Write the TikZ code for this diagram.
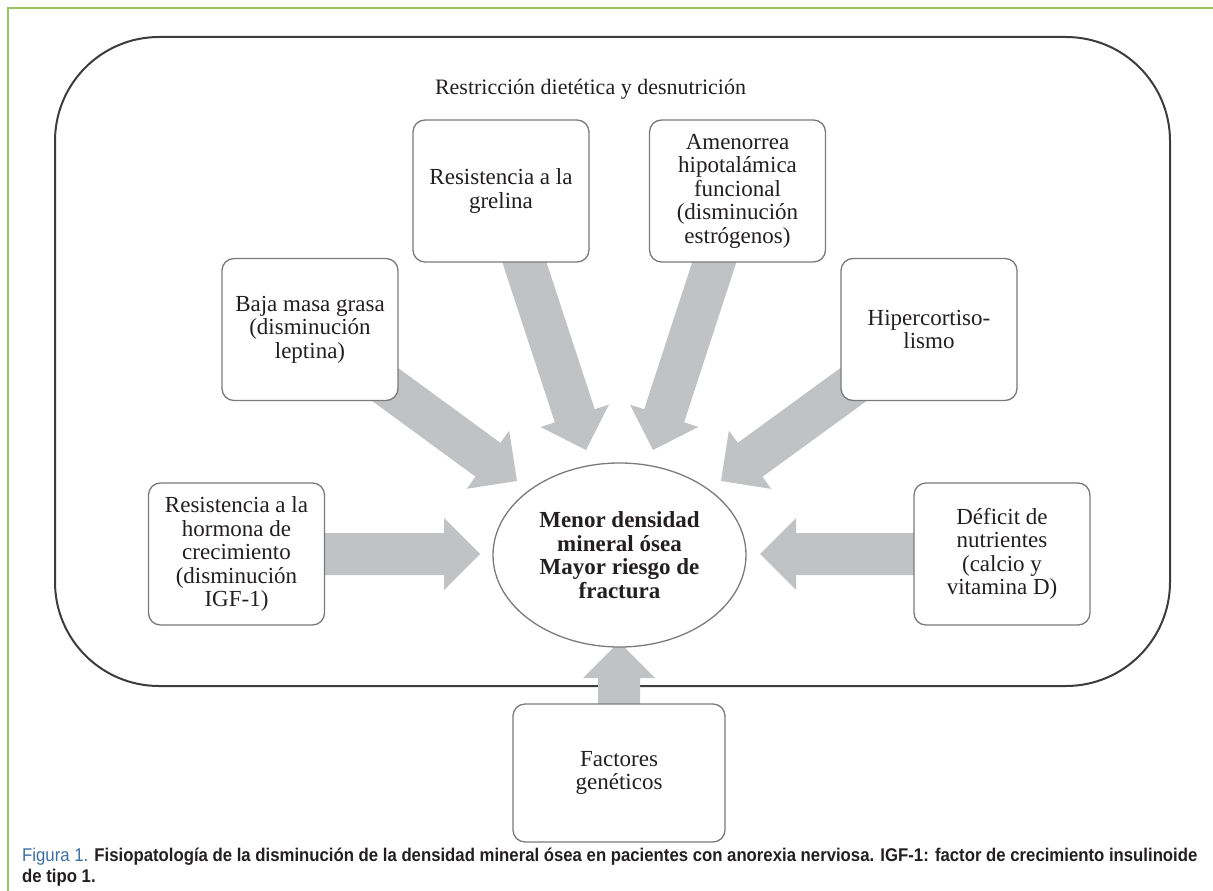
\documentclass[tikz,border=0pt]{standalone}
\usepackage{fontspec}
\setmainfont{Liberation Serif}
\newfontfamily\capfont[FakeStretch=0.91]{Liberation Sans}
\usepackage{tikz}
\usepackage{xcolor}
\usetikzlibrary{arrows,backgrounds,calc,positioning,shapes}
\tikzset{%
  factor/.style={rectangle,draw=boxline,line width=1.3pt,rounded corners=12pt,fill=white,align=center,text=ink,font=\fontsize{23}{23.5}\selectfont,minimum width=176pt,minimum height=142pt,inner sep=2pt},
  outcome/.style={ellipse,draw=boxline,line width=1.3pt,fill=white,align=center,text=ink,font=\fontsize{23}{23.5}\selectfont\bfseries,minimum width=253pt,minimum height=184pt,inner sep=0pt},
  fat/.style={fill=arrowgray},
}
\definecolor{arrowgray}{HTML}{C1C2C4}
\definecolor{boxline}{HTML}{7A7A7A}
\definecolor{frameline}{HTML}{3C3C3C}
\definecolor{mygreen}{HTML}{93C560}
\definecolor{capblue}{HTML}{3C6FA3}
\definecolor{ink}{HTML}{231F20}
\newcommand{\fatarrow}[2]{%
  \coordinate (hb) at ($(#2)!36pt!(#1)$);
  \fill[fat] ($(#1)!21pt!90:(#2)$) -- ($(hb)!21pt!90:(#2)$) -- ($(hb)!36pt!90:(#2)$) -- (#2)
    -- ($(hb)!36pt!-90:(#2)$) -- ($(hb)!21pt!-90:(#2)$) -- ($(#1)!21pt!-90:(#2)$) -- cycle;
}

\begin{document}
\begin{tikzpicture}[x=1pt,y=-1pt]
  \useasboundingbox (0,0) rectangle (1213,891);

  \node[text=ink,font=\fontsize{22}{24}\selectfont] (titulo) at (590.5,89) {Restricción dietética y desnutrición};

  \node[outcome] (menor) at (619.5,555) {Menor densidad\\mineral ósea\\Mayor riesgo de\\fractura};
  \node[factor] (hormona) at (236.5,554) {Resistencia a la\\hormona de\\crecimiento\\(disminución\\IGF-1)};
  \node[factor] (leptina) at (310,329.5) {Baja masa grasa\\(disminución\\leptina)};
  \node[factor] (grelina) at (501,191) {Resistencia a la\\grelina};
  \node[factor] (amenorrea) at (737.5,191) {Amenorrea\\hipotalámica\\funcional\\(disminución\\estrógenos)};
  \node[factor] (cortisol) at (929,329.5) {Hipercortiso-\\lismo};
  \node[factor] (nutrientes) at (1002,554) {Déficit de\\nutrientes\\(calcio y\\vitamina D)};
  \node[factor,minimum width=212pt,minimum height=138pt] (geneticos) at (619,773) {Factores\\genéticos};

  \coordinate (tipH) at (480,554);
  \coordinate (tipL) at (517,481);
  \coordinate (tipG) at (586,450);
  \coordinate (tipA) at (653,450);
  \coordinate (tipC) at (721,481);
  \coordinate (tipN) at (760,554);
  \coordinate (tipF) at (619,642);

  \node[anchor=base west,inner sep=0pt,align=left,text=ink,font=\capfont\fontsize{18.4}{20.5}\selectfont] (pie) at (22,882)
    {\textcolor{capblue}{Figura 1.} \textbf{Fisiopatología de la disminución de la densidad mineral ósea en pacientes con anorexia nerviosa. IGF-1: factor de crecimiento insulinoide}\\\textbf{de tipo 1.}};

  \begin{scope}[on background layer]
    \draw[mygreen,line width=2pt] (8,891) -- (8,8) -- (1213,8);
    \draw[frameline,line width=2pt,rounded corners=104pt] (55,37) rectangle (1170,686);
    \fatarrow{hormona}{tipH}
    \fatarrow{leptina}{tipL}
    \fatarrow{grelina}{tipG}
    \fatarrow{amenorrea}{tipA}
    \fatarrow{cortisol}{tipC}
    \fatarrow{nutrientes}{tipN}
    \fatarrow{geneticos}{tipF}
  \end{scope}
\end{tikzpicture}
\end{document}
